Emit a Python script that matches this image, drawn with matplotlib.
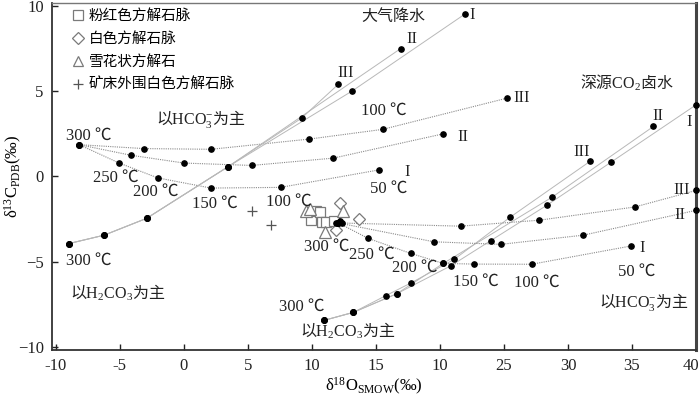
import matplotlib
matplotlib.use('Agg')
import matplotlib.pyplot as plt
from matplotlib.lines import Line2D
from matplotlib.transforms import ScaledTranslation

plt.rcParams['font.family'] = ['Liberation Serif', 'Noto Sans CJK SC']
plt.rcParams['mathtext.fontset'] = 'custom'
plt.rcParams['mathtext.rm'] = 'Liberation Serif'
plt.rcParams['mathtext.it'] = 'Liberation Serif:italic'
plt.rcParams['mathtext.bf'] = 'Liberation Serif:bold'

# --- model curves, left group (以HCO3-为主, from 300 C)
hco3_I_x = [-8.18, -5.08, -2.05, 2.11, 7.55, 15.26]
hco3_I_y = [1.87, 0.80, -0.08, -0.68, -0.64, 0.39]
hco3_II_x = [-8.18, -4.14, 0.02, 5.29, 11.67, 20.21]
hco3_II_y = [1.87, 1.25, 0.79, 0.65, 1.08, 2.50]
hco3_III_x = [-8.18, -3.10, 2.13, 9.79, 15.52, 25.20]
hco3_III_y = [1.87, 1.64, 1.60, 2.20, 2.77, 4.60]

# meteoric water lines (以H2CO3为主)
met_I_x = [-8.96, -6.23, -2.91, 3.46, 13.15, 21.95]
met_I_y = [-3.94, -3.45, -2.46, 0.58, 5.03, 9.55]
met_II_x = [-8.96, -6.23, -2.91, 3.46, 16.93]
met_II_y = [-3.94, -3.45, -2.46, 0.58, 7.52]
met_III_x = [-8.96, -6.23, -2.91, 3.46, 9.19, 12.06]
met_III_y = [-3.94, -3.45, -2.46, 0.58, 3.43, 5.42]

# deep CO2 brine lines (以H2CO3为主)
brine_I_x = [10.94, 13.23, 16.61, 20.83, 28.33, 33.36, 40.0]
brine_I_y = [-8.46, -7.99, -6.90, -5.26, -1.70, 0.84, 4.21]
brine_II_x = [10.94, 13.23, 16.61, 20.26, 28.77, 36.67]
brine_II_y = [-8.46, -7.99, -6.90, -5.11, -1.21, 2.94]
brine_III_x = [10.94, 13.23, 15.78, 17.71, 21.12, 25.47, 31.72]
brine_III_y = [-8.46, -7.99, -7.00, -6.27, -4.87, -2.40, 0.89]

# right group (以HCO3-为主, from 300 C)
rhco3_I_x = [12.06, 14.40, 17.71, 20.26, 22.66, 27.16, 34.89]
rhco3_I_y = [-2.73, -3.64, -4.52, -5.11, -5.15, -5.16, -4.09]
rhco3_II_x = [12.06, 19.53, 24.74, 31.20, 40.0]
rhco3_II_y = [-2.73, -3.84, -3.99, -3.45, -1.99]
rhco3_III_x = [12.06, 21.61, 27.76, 35.23, 40.0]
rhco3_III_y = [-2.73, -2.92, -2.57, -1.79, -0.82]

extra_dot_x = [23.98, 11.90, 12.20, 12.35]
extra_dot_y = [-3.82, -2.72, -2.62, -2.72]

# samples
pink_x = [9.90, 10.30, 10.60, 10.80, 11.10, 11.70]
pink_y = [-2.55, -2.05, -2.10, -2.65, -2.65, -2.60]
white_x = [12.20, 11.85, 13.65]
white_y = [-1.55, -3.15, -2.50]
snow_x = [9.50, 9.85, 11.00, 12.45]
snow_y = [-2.00, -1.90, -3.25, -2.05]
outer_x = [5.29, 6.77]
outer_y = [-2.05, -2.87]

xticks = [-10, -5, 0, 5, 10, 15, 20, 25, 30, 35, 40]
xtick_labels = ['-10', '-5', '0', '5', '10', '15', '10', '25', '30', '35', '40']
yticks = [-10, -5, 0, 5, 10]

fig = plt.figure(figsize=(7, 3.96), dpi=100)
ax = fig.add_axes([0.0743, 0.1162, 0.9200, 0.8762])

dotted = dict(color='#8a8a8a', lw=0.8, ls=(0, (1, 1)), zorder=2)
solid = dict(color='#b8b8b8', lw=0.7, ls='-', zorder=2)

curves = [
    (hco3_I_x, hco3_I_y, dotted), (hco3_II_x, hco3_II_y, dotted),
    (hco3_III_x, hco3_III_y, dotted),
    (met_I_x, met_I_y, solid), (met_II_x, met_II_y, solid),
    (met_III_x, met_III_y, solid),
    (brine_I_x, brine_I_y, solid), (brine_II_x, brine_II_y, solid),
    (brine_III_x, brine_III_y, solid),
    (rhco3_I_x, rhco3_I_y, dotted), (rhco3_II_x, rhco3_II_y, dotted),
    (rhco3_III_x, rhco3_III_y, dotted),
]
for cx, cy, st in curves:
    ax.plot(cx, cy, **st)
    ax.plot(cx, cy, 'o', color='black', ms=3.8, zorder=4, clip_on=False)
ax.plot(extra_dot_x, extra_dot_y, 'o', color='black', ms=3.8, zorder=4)

grey = '#7a7a7a'
ax.plot(pink_x, pink_y, 's', mfc='white', mec=grey, mew=0.9, ms=7, ls='none', zorder=3)
ax.plot(white_x, white_y, 'D', mfc='white', mec=grey, mew=0.9, ms=6.5, ls='none', zorder=3)
ax.plot(snow_x, snow_y, '^', mfc='white', mec=grey, mew=0.9, ms=8, ls='none', zorder=3)
ax.plot(outer_x, outer_y, '+', color='#555', mew=0.9, ms=7, ls='none', zorder=3)

fs = 12
cjk = 'Noto Sans CJK SC'


def lab(x, y, s, size=fs, **kw):
    ax.text(x, y, s, fontsize=size, ha='center', va='center', color='#222', **kw)


def cjk_lab(x, y, s, size=11.5):
    # Chinese in the text font, chemistry in mathtext (Liberation Serif)
    ax.text(x, y, s, fontsize=size, ha='center', va='center', color='#222',
            family=cjk)


# left group
cjk_lab(1.3, 3.4, r'以$\mathrm{HCO_3^{-}}$为主')
lab(-7.4, 2.4, '300 ℃')
lab(-5.3, -0.06, '250 ℃')
lab(-2.2, -0.9, '200 ℃')
lab(2.4, -1.6, '150 ℃')
lab(8.2, -1.5, '100 ℃')
lab(16.0, -0.72, '50 ℃')
lab(15.6, 3.86, '100 ℃')
lab(17.45, 0.25, 'I')
lab(21.8, 2.3, 'II')
lab(26.4, 4.64, 'III')
lab(22.55, 9.47, 'I')
lab(17.8, 8.1, 'II')
lab(12.6, 6.1, 'III')
cjk_lab(16.35, 9.42, '大气降水')
lab(-7.4, -4.97, '300 ℃')
cjk_lab(-5.2, -6.86, r'以$\mathrm{H_2CO_3}$为主')

# right group
cjk_lab(34.6, 5.51, r'深源$\mathrm{CO_2}$卤水')
lab(39.5, 3.18, 'I')
lab(37.05, 3.57, 'II')
lab(31.07, 1.42, 'III')
lab(38.9, -0.78, 'III')
lab(38.75, -2.28, 'II')
lab(35.8, -4.23, 'I')
lab(11.15, -4.13, '300 ℃')
lab(14.66, -4.62, '250 ℃')
lab(18.05, -5.34, '200 ℃')
lab(22.8, -6.18, '150 ℃')
lab(27.55, -6.22, '100 ℃')
lab(35.4, -5.6, '50 ℃')
cjk_lab(35.9, -7.35, r'以$\mathrm{HCO_3^{-}}$为主')
lab(9.2, -7.68, '300 ℃')
cjk_lab(12.8, -9.06, r'以$\mathrm{H_2CO_3}$为主')

handles = [
    Line2D([], [], marker='s', ls='none', mfc='white', mec=grey, mew=0.9, ms=7),
    Line2D([], [], marker='D', ls='none', mfc='white', mec=grey, mew=0.9, ms=6.5),
    Line2D([], [], marker='^', ls='none', mfc='white', mec=grey, mew=0.9, ms=7.5),
    Line2D([], [], marker='+', ls='none', color='#555', mew=0.9, ms=7),
]
labels = ['粉红色方解石脉', '白色方解石脉', '雪花状方解石', '矿床外围白色方解石脉']
ax.legend(handles, labels, loc='upper left', bbox_to_anchor=(0.016, 1.013),
          frameon=False, handlelength=0.8, handletextpad=0.3, labelspacing=0.62,
          borderpad=0.2, prop={'family': [cjk], 'size': 10.5})

ax.set_xlim(-10.3, 40)
ax.set_ylim(-10.2, 10.2)
ax.set_xticks(xticks)
ax.set_xticklabels(xtick_labels)
ax.set_yticks(yticks)
ax.tick_params(direction='in', length=4, width=1, labelsize=12, colors='#222', pad=6)

for side in ['left', 'bottom']:
    ax.spines[side].set_linewidth(1.3)
    ax.spines[side].set_color('#333')
ax.spines['right'].set_linewidth(2.2)
ax.spines['right'].set_color('#444')
ax.spines['top'].set_linewidth(1.0)
ax.spines['top'].set_color('#777')

ax.set_xlabel('δ$^{18}$O$_{\\mathrm{SMOW}}$(‰)', fontsize=12)
ax.set_ylabel('δ$^{13}$C$_{\\mathrm{PDB}}$(‰)', fontsize=12)
ax.xaxis.set_label_coords(0.5, -0.075)
ax.yaxis.set_label_coords(-0.044, 0.5)

# keep the last x tick label inside the canvas
last = ax.get_xticklabels()[-1]
last.set_transform(last.get_transform() + ScaledTranslation(-4 / 72, 0, fig.dpi_scale_trans))

fig.savefig('out.png', dpi=100)
